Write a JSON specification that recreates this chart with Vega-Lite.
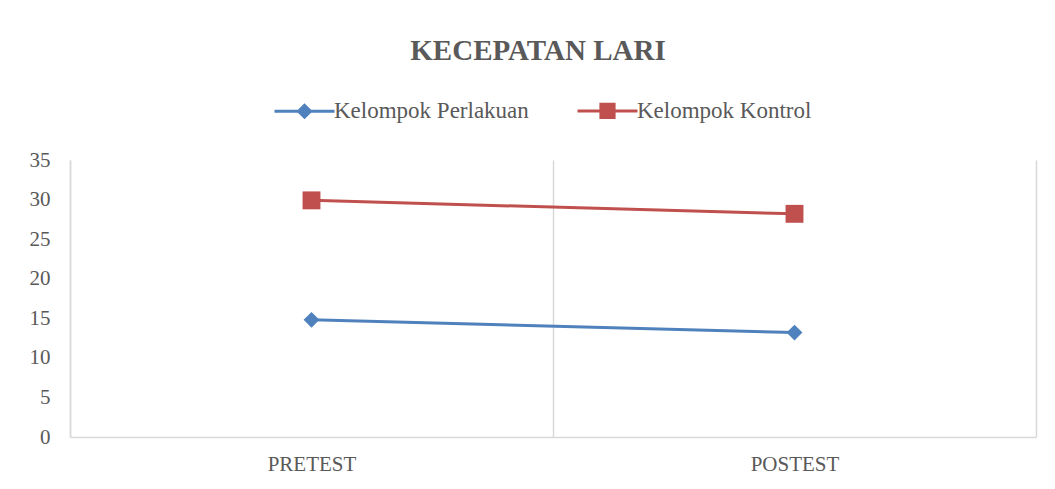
{
  "$schema": "https://vega.github.io/schema/vega-lite/v6.json",
  "width": 966,
  "height": 277,
  "autosize": "none",
  "padding": {"left": 70, "top": 160, "right": 19, "bottom": 52},
  "background": "white",
  "config": {
    "view": {"stroke": null},
    "font": "Liberation Serif"
  },
  "title": {
    "text": "KECEPATAN LARI",
    "font": "Liberation Serif",
    "fontSize": 29,
    "fontWeight": "bold",
    "color": "#595959",
    "anchor": "middle",
    "dx": -15,
    "offset": 13
  },
  "data": {
    "values": [
      {"test": "PRETEST", "series": "Kelompok Perlakuan", "value": 14.8},
      {"test": "POSTEST", "series": "Kelompok Perlakuan", "value": 13.2},
      {"test": "PRETEST", "series": "Kelompok Kontrol", "value": 29.9},
      {"test": "POSTEST", "series": "Kelompok Kontrol", "value": 28.2}
    ]
  },
  "encoding": {
    "x": {
      "field": "test",
      "type": "nominal",
      "sort": ["PRETEST", "POSTEST"],
      "scale": {"type": "band", "paddingInner": 0, "paddingOuter": 0},
      "axis": {
        "title": null,
        "labelAngle": 0,
        "ticks": false,
        "grid": true,
        "tickBand": "extent",
        "gridColor": "#D9D9D9",
        "gridWidth": 1.5,
        "domainColor": "#D9D9D9",
        "domainWidth": 1.5,
        "labelPadding": 16,
        "labelFont": "Liberation Serif",
        "labelFontSize": 21,
        "labelColor": "#595959"
      }
    },
    "y": {
      "field": "value",
      "type": "quantitative",
      "scale": {"domain": [0, 35]},
      "axis": {
        "title": null,
        "values": [0, 5, 10, 15, 20, 25, 30, 35],
        "grid": false,
        "ticks": false,
        "domainColor": "#D9D9D9",
        "domainWidth": 1.5,
        "labelPadding": 20,
        "labelOverlap": false,
        "labelFont": "Liberation Serif",
        "labelFontSize": 21,
        "labelColor": "#595959"
      }
    }
  },
  "layer": [
    {
      "mark": {"type": "line", "strokeWidth": 3},
      "encoding": {
        "color": {
          "field": "series",
          "type": "nominal",
          "scale": {"domain": ["Kelompok Perlakuan", "Kelompok Kontrol"], "range": ["#4F81BD", "#C0504D"]},
          "legend": {
            "title": null,
            "orient": "none",
            "legendX": 203,
            "legendY": -81,
            "direction": "horizontal",
            "labelFont": "Liberation Serif",
            "labelFontSize": 23,
            "labelLimit": 400,
            "labelColor": "#595959",
            "symbolSize": 3600,
            "symbolStrokeWidth": 3,
            "columnPadding": 42,
            "labelOffset": -2,
            "encode": {
              "symbols": {
                "update": {
                  "shape": {"signal": "datum.value === 'Kelompok Perlakuan' ? 'M-1,0H1M-0.2,0L0,-0.2L0.2,0L0,0.2Z' : 'M-1,0H1M-0.22,-0.22H0.22V0.22H-0.22Z'"},
                  "fill": {"signal": "datum.value === 'Kelompok Perlakuan' ? '#4F81BD' : '#C0504D'"},
                  "stroke": {"signal": "datum.value === 'Kelompok Perlakuan' ? '#4F81BD' : '#C0504D'"},
                  "strokeWidth": {"value": 3},
                  "strokeOpacity": {"value": 1},
                  "fillOpacity": {"value": 1},
                  "opacity": {"value": 1},
                  "size": {"value": 3600}
                }
              }
            }
          }
        }
      }
    },
    {
      "transform": [{"filter": "datum.series === 'Kelompok Perlakuan'"}],
      "mark": {"type": "point", "filled": true, "opacity": 1, "shape": "diamond", "size": 250, "color": "#4F81BD"}
    },
    {
      "transform": [{"filter": "datum.series === 'Kelompok Kontrol'"}],
      "mark": {"type": "point", "filled": true, "opacity": 1, "shape": "square", "size": 320, "color": "#C0504D"}
    }
  ]
}
